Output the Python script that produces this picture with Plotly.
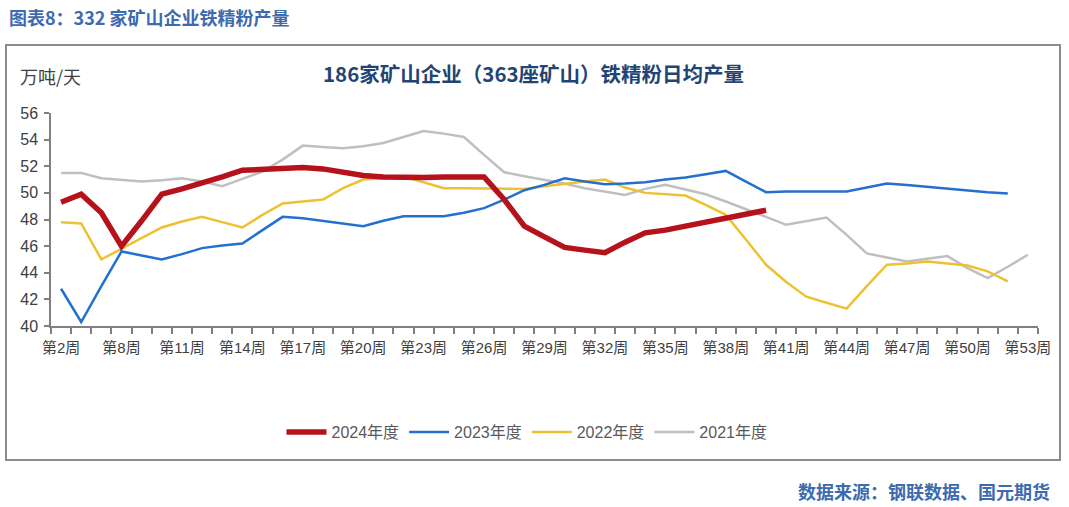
import plotly.graph_objects as go

weeks = ["第2周", "第4周", "第6周"] + [f"第{w}周" for w in range(8, 54)]
label_weeks = ["第2周", "第8周", "第11周", "第14周", "第17周", "第20周", "第23周", "第26周",
               "第29周", "第32周", "第35周", "第38周", "第41周", "第44周", "第47周", "第50周", "第53周"]

y2024 = [49.3, 49.9, 48.5, 46.0, 47.9, 49.9, 50.3, 50.7, 51.2, 51.7,
         51.8, 51.9, 51.9, 51.8, 51.5, 51.3, 51.2, 51.15, 51.15, 51.2,
         51.2, 51.2, 49.5, 47.5, 46.7, 45.9, 45.7, 45.5, 46.3, 47.0,
         47.2, 47.5, 47.7, 48.0, 48.3, 48.7]
y2023 = [42.8, 40.3, 43.0, 45.6, 45.3, 45.0, 45.4, 45.85, 46.05, 46.2,
         47.2, 48.2, 48.1, 47.9, 47.7, 47.5, 47.9, 48.25, 48.25, 48.25,
         48.5, 48.85, 49.5, 50.2, 50.6, 51.1, 50.85, 50.65, 50.7, 50.8,
         51.0, 51.15, 51.4, 51.65, 50.85, 50.05, 50.1, 50.1, 50.1, 50.1,
         50.4, 50.7, 50.6, 50.45, 50.3, 50.2, 50.05, 49.95]
y2022 = [47.8, 47.7, 45.0, 45.8, 46.6, 47.4, 47.85, 48.2, 47.8, 47.4,
         48.35, 49.2, 49.35, 49.5, 50.35, 51.0, 51.1, 51.2, 50.8, 50.35,
         50.35, 50.35, 50.3, 50.3, 50.5, 50.7, 50.85, 51.0, 50.4, 50.0,
         49.9, 49.8, 49.1, 48.35, 46.5, 44.6, 43.3, 42.2, 41.75, 41.3,
         43.0, 44.6, 44.7, 44.85, 44.7, 44.55, 44.1, 43.35]
y2021 = [51.5, 51.5, 51.1, 50.95, 50.85, 50.95, 51.1, 50.85, 50.5, 51.05,
         51.6, 52.5, 53.55, 53.45, 53.35, 53.5, 53.75, 54.2, 54.65, 54.45,
         54.2, 52.85, 51.55, 51.25, 51.0, 50.7, 50.35, 50.1, 49.85, 50.3,
         50.6, 50.25, 49.9, 49.35, 48.8, 48.2, 47.6, 47.85, 48.15, 46.85,
         45.45, 45.15, 44.85, 45.05, 45.25, 44.35, 43.6, 44.45, 45.35]

series = [
    ("2021年度", y2021, "#BFBFBF", 2.5, 4),
    ("2022年度", y2022, "#EDC232", 2.5, 3),
    ("2023年度", y2023, "#2470CF", 2.5, 2),
    ("2024年度", y2024, "#B5121B", 5.5, 1),
]

idx = list(range(len(weeks)))
fig = go.Figure()
for name, vals, color, width, rank in series:
    fig.add_trace(go.Scatter(
        x=idx[:len(vals)], y=vals, name=name, mode="lines",
        line=dict(color=color, width=width), legendrank=rank,
    ))

font_main = "Liberation Sans, Noto Sans CJK SC, sans-serif"
cjk = "Noto Sans CJK SC, sans-serif"
L, R, T, B = 51, 1038, 113, 326
W, H = 1069, 507
pw, ph = R - L, B - T

def px(x):
    return (x - L) / pw

def py(y):
    return (B - y) / ph

fig.update_layout(
    width=W, height=H,
    margin=dict(l=L, r=W - R, t=T, b=H - B),
    paper_bgcolor="white", plot_bgcolor="white",
    font=dict(family=font_main, size=14, color="#404040"),
    showlegend=True,
    legend=dict(orientation="h", x=px(527), y=py(432), xanchor="center", yanchor="middle",
                font=dict(size=16, color="#595959"), itemwidth=40, tracegroupgap=0,
                bgcolor="rgba(0,0,0,0)"),
    xaxis=dict(
        range=[-0.5, len(weeks) - 0.5], showgrid=False, zeroline=False,
        showline=True, linecolor="#808080", linewidth=1.5,
        tickmode="array",
        tickvals=[weeks.index(w) for w in label_weeks],
        ticktext=label_weeks, ticks="", ticklen=0, ticklabelstandoff=7,
        tickfont=dict(size=15, color="#404040"),
        minor=dict(tickmode="array", tickvals=[i - 0.5 for i in range(len(weeks) + 1)],
                   ticks="outside", ticklen=6, tickcolor="#808080", tickwidth=1.5, showgrid=False),
    ),
    yaxis=dict(
        range=[40, 56], dtick=2, showgrid=False, zeroline=False,
        showline=True, linecolor="#808080", linewidth=1.5,
        ticks="outside", ticklen=5, tickcolor="#808080", tickwidth=1.5,
        ticklabelstandoff=3,
        tickfont=dict(size=16, color="#404040"),
    ),
    shapes=[dict(type="rect", xref="paper", yref="paper",
                 x0=px(6), x1=px(1060), y0=py(460), y1=py(45),
                 line=dict(color="#8C8C8C", width=2), fillcolor="rgba(0,0,0,0)", layer="below")],
    annotations=[
        dict(text="<b>图表8：332 家矿山企业铁精粉产量</b>", xref="paper", yref="paper",
             x=px(7), y=py(17), xanchor="left", yanchor="middle", showarrow=False,
             font=dict(size=18, color="#3E6AAE", family=cjk)),
        dict(text="<b>186家矿山企业（363座矿山）铁精粉日均产量</b>", xref="paper", yref="paper",
             x=px(533), y=py(73), xanchor="center", yanchor="middle", showarrow=False,
             font=dict(size=20.5, color="#1F4574", family=cjk)),
        dict(text="万吨/天", xref="paper", yref="paper",
             x=px(18), y=py(76), xanchor="left", yanchor="middle", showarrow=False,
             font=dict(size=18, color="#404040", family=cjk)),
        dict(text="<b>数据来源：钢联数据、国元期货</b>", xref="paper", yref="paper",
             x=px(1052), y=py(491), xanchor="right", yanchor="middle", showarrow=False,
             font=dict(size=18, color="#3E6AAE", family=cjk)),
    ],
)

fig.write_html("out.html", config={"displayModeBar": False},
               post_script="document.body.style.margin='0';")
